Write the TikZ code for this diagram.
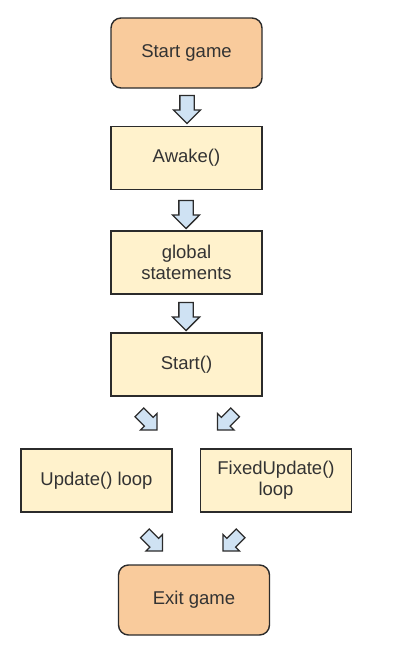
\documentclass[tikz,border=0pt]{standalone}
\usepackage{fontspec}
\setmainfont{Liberation Sans}
\usetikzlibrary{shapes.arrows}
\definecolor{boxfill}{HTML}{FFF2CC}
\definecolor{termfill}{HTML}{F9CB9C}
\definecolor{arrfill}{HTML}{CFE2F3}
\definecolor{edge}{HTML}{2B2B2B}
\definecolor{txt}{HTML}{333333}
\tikzset{
  procbox/.style={draw=edge, line width=1.4pt, fill=boxfill, minimum width=151pt, minimum height=63pt,
    inner sep=2pt, align=center, text=txt, font=\fontsize{18.5}{21}\selectfont},
  termbox/.style={procbox, fill=termfill, rounded corners=10pt, minimum height=70pt},
  blockarrow/.style={shape=single arrow, draw=edge, line width=1.3pt, fill=arrfill, inner xsep=0pt,
    inner ysep=6.5pt, minimum height=28pt, single arrow head extend=6.5pt, single arrow tip angle=90},
  diagarrow/.style={blockarrow, minimum height=25pt, inner ysep=5.5pt, single arrow head extend=5.5pt}
}
\begin{document}
\begin{tikzpicture}[x=1pt,y=-1pt]
\useasboundingbox (0,0) rectangle (403,667);
\node[termbox] (start) at (186.5,53) {Start game};
\node[procbox] (awake) at (186.5,158) {Awake()};
\node[procbox] (global) at (186.5,262.5) {global\\statements};
\node[procbox] (startfn) at (186.5,364.5) {Start()};
\node[procbox] (update) at (96.5,480.5) {Update() loop};
\node[procbox] (fixed) at (276,480.5) {FixedUpdate()\\loop};
\node[termbox] (exit) at (194,600) {Exit game};
\node[blockarrow, rotate=-90] (a1) at (187,106) {};
\node[blockarrow, rotate=-90] (a2) at (186,211) {};
\node[blockarrow, rotate=-90] (a3) at (186,313) {};
\node[diagarrow, rotate=-45] (a4) at (146,419) {};
\node[diagarrow, rotate=-135] (a5) at (228.5,419) {};
\node[diagarrow, rotate=-45] (a6) at (151.5,540) {};
\node[diagarrow, rotate=-135] (a7) at (234,540) {};
\end{tikzpicture}
\end{document}
